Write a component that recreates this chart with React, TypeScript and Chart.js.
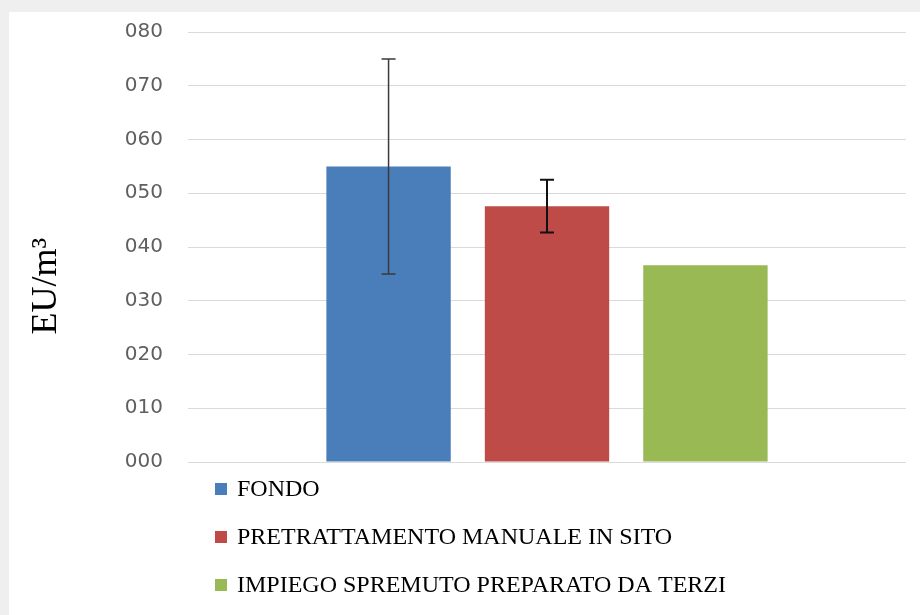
import React, { useEffect, useRef } from 'react';
import { Chart, registerables } from 'chart.js';

Chart.register(...registerables);

const CATEGORIES = [''];
const SERIES_LABELS = ['FONDO', 'PRETRATTAMENTO MANUALE IN SITO', 'IMPIEGO SPREMUTO PREPARATO DA TERZI'];
const FONDO_VALUES = [55];
const PRETRATTAMENTO_VALUES = [47.6];
const IMPIEGO_VALUES = [36.6];
const ERROR_AMOUNTS = [20, 4.9, 0];
const SERIES_COLORS = ['#4a7ebb', '#be4b48', '#98b954'];
const ERROR_COLORS = ['#3a3a3a', '#111111', '#111111'];
const Y_TICK_MIN = 0;
const Y_TICK_MAX = 80;
const Y_TICK_STEP = 10;
const Y_TITLE = 'EU/m³';

const backgroundPlugin = {
  id: 'bgFrame',
  beforeDraw(chart: any) {
    const { ctx, width, height } = chart;
    ctx.save();
    ctx.fillStyle = '#efefef';
    ctx.fillRect(0, 0, width, height);
    ctx.fillStyle = '#ffffff';
    ctx.fillRect(9, 12, width - 9, height - 12);
    ctx.restore();
  },
};

const errorBarPlugin = {
  id: 'errorBars',
  afterDatasetsDraw(chart: any) {
    const { ctx } = chart;
    const yScale = chart.scales.y;
    chart.data.datasets.forEach((ds: any, i: number) => {
      const err = ERROR_AMOUNTS[i];
      if (!err) return;
      const meta = chart.getDatasetMeta(i);
      meta.data.forEach((bar: any, j: number) => {
        const v = ds.data[j];
        const x = bar.x;
        const yTop = yScale.getPixelForValue(v + err);
        const yBot = yScale.getPixelForValue(v - err);
        ctx.save();
        ctx.strokeStyle = ERROR_COLORS[i];
        ctx.lineWidth = i === 0 ? 1.5 : 2;
        ctx.beginPath();
        ctx.moveTo(x, yTop);
        ctx.lineTo(x, yBot);
        ctx.moveTo(x - 7, yTop);
        ctx.lineTo(x + 7, yTop);
        ctx.moveTo(x - 7, yBot);
        ctx.lineTo(x + 7, yBot);
        ctx.stroke();
        ctx.restore();
      });
    });
  },
};

const legendPlugin = {
  id: 'verticalLegend',
  afterDraw(chart: any) {
    const { ctx, chartArea } = chart;
    ctx.save();
    ctx.font = '24px "Liberation Serif", serif';
    ctx.textBaseline = 'middle';
    ctx.textAlign = 'left';
    chart.data.datasets.forEach((ds: any, i: number) => {
      const y = chartArea.bottom + 27 + i * 48;
      const x = chartArea.left + 27;
      ctx.fillStyle = ds.backgroundColor;
      ctx.fillRect(x, y - 6, 12, 12);
      ctx.fillStyle = '#000000';
      ctx.fillText(ds.label, x + 22, y + 1);
    });
    ctx.restore();
  },
};

const yTitlePlugin = {
  id: 'yTitle',
  afterDraw(chart: any) {
    const { ctx } = chart;
    ctx.save();
    ctx.translate(47, 286);
    ctx.rotate(-Math.PI / 2);
    ctx.font = '36px "Liberation Serif", serif';
    ctx.fillStyle = '#000000';
    ctx.textAlign = 'center';
    ctx.textBaseline = 'middle';
    ctx.fillText(Y_TITLE, 0, 0);
    ctx.restore();
  },
};

export default function App() {
  const canvasRef = useRef<HTMLCanvasElement | null>(null);

  useEffect(() => {
    if (!canvasRef.current) return;
    const valueSets = [FONDO_VALUES, PRETRATTAMENTO_VALUES, IMPIEGO_VALUES];
    const chart = new Chart(canvasRef.current, {
      type: 'bar',
      data: {
        labels: CATEGORIES,
        datasets: SERIES_LABELS.map((label, i) => ({
          label,
          data: valueSets[i],
          backgroundColor: SERIES_COLORS[i],
          borderWidth: 0,
          categoryPercentage: 0.662,
          barPercentage: 0.785,
        })),
      },
      options: {
        responsive: false,
        animation: false,
        layout: { padding: { top: 32, right: 14, bottom: 153, left: 0 } },
        plugins: {
          legend: { display: false },
          tooltip: { enabled: false },
        },
        scales: {
          x: { display: false },
          y: {
            min: Y_TICK_MIN,
            max: Y_TICK_MAX,
            afterFit(scale: any) {
              scale.width = 188;
              scale.paddingTop = 0;
              scale.paddingBottom = 0;
            },
            ticks: {
              stepSize: Y_TICK_STEP,
              padding: 25,
              color: '#5f5f5f',
              font: { family: '"DejaVu Sans", sans-serif', size: 20 },
              callback: (v: any) => String(v).padStart(3, '0'),
            },
            grid: { color: '#dadada', lineWidth: 1, drawTicks: false },
            border: { display: false },
          },
        },
      },
      plugins: [backgroundPlugin, errorBarPlugin, legendPlugin, yTitlePlugin],
    });
    return () => chart.destroy();
  }, []);

  return (
    <div style={{ position: 'fixed', left: 0, top: 0, width: 920, height: 615 }}>
      <canvas ref={canvasRef} width={920} height={615} style={{ display: 'block' }} />
    </div>
  );
}
